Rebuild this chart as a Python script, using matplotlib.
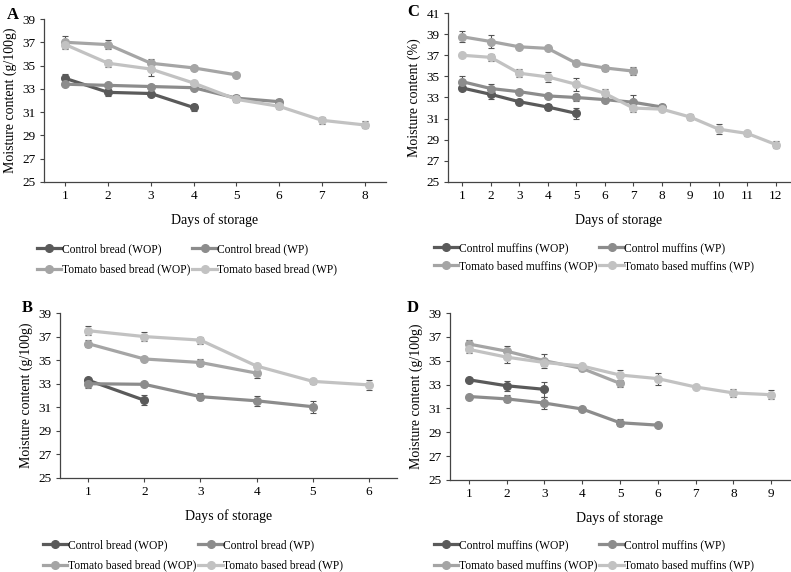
import matplotlib.pyplot as plt
from matplotlib.lines import Line2D

plt.rcParams['font.family'] = ['Liberation Serif', 'DejaVu Serif']

# Panel A - bread
a_days = [1, 2, 3, 4, 5, 6, 7, 8]
a_ctrl_wop = [33.9, 32.7, 32.6, 31.4]
a_ctrl_wop_err = [0.4, 0.3, 0.1, 0.3]
a_ctrl_wp = [33.4, 33.3, 33.2, 33.1, 32.2, 31.9]
a_ctrl_wp_err = [0.1, 0.1, 0.1, 0.1, 0.3, 0.2]
a_tom_wop = [37.0, 36.8, 35.2, 34.8, 34.2]
a_tom_wop_err = [0.5, 0.4, 0.4, 0.2, 0.1]
a_tom_wp = [36.8, 35.2, 34.7, 33.5, 32.1, 31.5, 30.3, 29.9]
a_tom_wp_err = [0.4, 0.3, 0.6, 0.2, 0.2, 0.2, 0.3, 0.3]

# Panel B - bread
b_days = [1, 2, 3, 4, 5, 6]
b_ctrl_wop = [33.3, 31.6]
b_ctrl_wop_err = [0.2, 0.4]
b_ctrl_wp = [33.0, 32.95, 31.9, 31.55, 31.05]
b_ctrl_wp_err = [0.4, 0.1, 0.3, 0.4, 0.5]
b_tom_wop = [36.4, 35.1, 34.8, 33.9]
b_tom_wop_err = [0.3, 0.2, 0.3, 0.4]
b_tom_wp = [37.5, 37.0, 36.7, 34.5, 33.2, 32.9]
b_tom_wp_err = [0.4, 0.4, 0.3, 0.1, 0.2, 0.4]

# Panel C - muffins
c_days = list(range(1, 13))
c_ctrl_wop = [33.9, 33.3, 32.6, 32.1, 31.5]
c_ctrl_wop_err = [0.2, 0.4, 0.1, 0.3, 0.5]
c_ctrl_wp = [34.5, 33.85, 33.55, 33.15, 33.0, 32.8, 32.55, 32.1]
c_ctrl_wp_err = [0.5, 0.4, 0.1, 0.1, 0.3, 0.2, 0.7, 0.3]
c_tom_wop = [38.75, 38.3, 37.8, 37.65, 36.25, 35.8, 35.5]
c_tom_wop_err = [0.5, 0.6, 0.1, 0.1, 0.1, 0.3, 0.4]
c_tom_wp = [37.0, 36.8, 35.3, 34.95, 34.25, 33.4, 32.0, 31.9, 31.15, 30.0, 29.6, 28.55]
c_tom_wp_err = [0.1, 0.3, 0.4, 0.5, 0.6, 0.4, 0.4, 0.2, 0.3, 0.5, 0.2, 0.3]

# Panel D - muffins
d_days = list(range(1, 10))
d_ctrl_wop = [33.4, 32.9, 32.6]
d_ctrl_wop_err = [0.1, 0.4, 0.6]
d_ctrl_wp = [32.0, 31.8, 31.45, 30.95, 29.8, 29.6]
d_ctrl_wp_err = [0.1, 0.3, 0.5, 0.2, 0.3, 0.1]
d_tom_wop = [36.4, 35.8, 35.0, 34.35, 33.1]
d_tom_wop_err = [0.3, 0.4, 0.6, 0.2, 0.3]
d_tom_wp = [35.95, 35.3, 34.85, 34.55, 33.8, 33.5, 32.8, 32.3, 32.15]
d_tom_wp_err = [0.3, 0.5, 0.3, 0.2, 0.4, 0.5, 0.1, 0.3, 0.4]

colors = ['#5a5a5a', '#8c8c8c', '#a5a5a5', '#c2c2c2']
bread_labels = ['Control bread (WOP)', 'Control bread (WP)',
                'Tomato based bread (WOP)', 'Tomato based bread (WP)']
muffin_labels = ['Control muffins (WOP)', 'Control muffins (WP)',
                 'Tomato based muffins (WOP)', 'Tomato based muffins (WP)']

fig = plt.figure(figsize=(7.91, 5.72), dpi=100)
W, H = 791, 572


def px_axes(left, top, right, bottom):
    return fig.add_axes([left / W, 1 - bottom / H, (right - left) / W, (bottom - top) / H])


def panel(ax, days, series, labels, ylim, ylabel, leg_y, leg_x, rowsp):
    for (vals, errs), col in zip(series, colors):
        x = days[:len(vals)]
        ax.errorbar(x, vals, yerr=errs, color=col, lw=2.3, marker='o', ms=5.5,
                    ecolor='#555555', elinewidth=0.8, capsize=2.5, capthick=0.8,
                    zorder=3)
    ax.set_xlim(0.5, len(days) + 0.5)
    ax.set_ylim(*ylim)
    ax.set_yticks(range(ylim[0], ylim[1] + 1, 2))
    ax.set_xticks(days)
    for s in ['top', 'right']:
        ax.spines[s].set_visible(False)
    for s in ['left', 'bottom']:
        ax.spines[s].set_color('#444444')
        ax.spines[s].set_linewidth(0.9)
    ax.tick_params(labelsize=9.5, length=3, width=0.8, color='#444444', pad=3)
    ax.set_xlabel('Days of storage', fontsize=10, labelpad=8)
    ax.set_ylabel(ylabel, fontsize=10, labelpad=4)
    handles = [Line2D([], [], color=c, lw=2.3, marker='o', ms=5.5) for c in colors]
    order = [0, 2, 1, 3]
    ax.legend([handles[i] for i in order], [labels[i] for i in order],
              loc='upper left', bbox_to_anchor=(leg_x / W, 1 - leg_y / H),
              bbox_transform=fig.transFigure, ncol=2, frameon=False,
              fontsize=8.3, handlelength=2.1, handletextpad=0.05,
              columnspacing=0.2, labelspacing=rowsp, borderaxespad=0,
              borderpad=0)


axA = px_axes(44, 19, 386, 182)
panel(axA, a_days,
      [(a_ctrl_wop, a_ctrl_wop_err), (a_ctrl_wp, a_ctrl_wp_err),
       (a_tom_wop, a_tom_wop_err), (a_tom_wp, a_tom_wp_err)],
      bread_labels, (25, 39), 'Moisture content (g/100g)', 243, 37, 0.75)

axC = px_axes(448, 13, 790, 182)
panel(axC, c_days,
      [(c_ctrl_wop, c_ctrl_wop_err), (c_ctrl_wp, c_ctrl_wp_err),
       (c_tom_wop, c_tom_wop_err), (c_tom_wp, c_tom_wp_err)],
      muffin_labels, (25, 41), 'Moisture content (%)', 242, 434, 0.55)

axB = px_axes(60, 313, 397, 478)
panel(axB, b_days,
      [(b_ctrl_wop, b_ctrl_wop_err), (b_ctrl_wp, b_ctrl_wp_err),
       (b_tom_wop, b_tom_wop_err), (b_tom_wp, b_tom_wp_err)],
      bread_labels, (25, 39), 'Moisture content (g/100g)', 539, 43, 0.75)

axD = px_axes(450, 313, 790, 480)
panel(axD, d_days,
      [(d_ctrl_wop, d_ctrl_wop_err), (d_ctrl_wp, d_ctrl_wp_err),
       (d_tom_wop, d_tom_wop_err), (d_tom_wp, d_tom_wp_err)],
      muffin_labels, (25, 39), 'Moisture content (g/100g)', 539, 434, 0.75)

for letter, lx, ly in [('A', 7, 15), ('C', 407, 12), ('B', 22, 308), ('D', 407, 308)]:
    fig.text(lx / W, 1 - ly / H, letter, fontsize=12, fontweight='bold',
             ha='left', va='center')

fig.savefig('out.png', dpi=100)
